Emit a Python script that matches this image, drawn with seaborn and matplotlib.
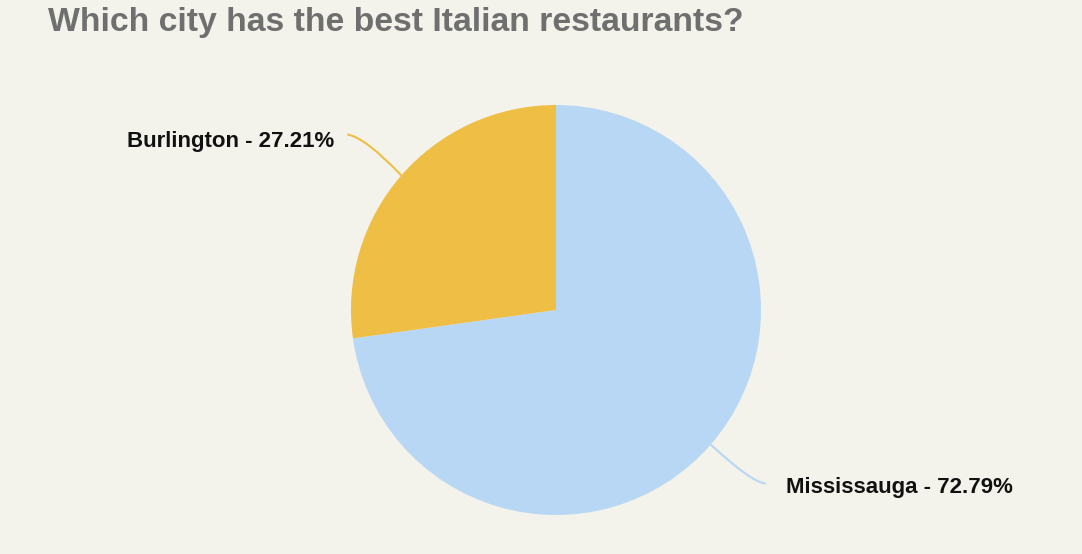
import numpy as np
import matplotlib
matplotlib.use("Agg")
import matplotlib.pyplot as plt
from matplotlib.path import Path
from matplotlib.patches import PathPatch
import seaborn as sns

categories = ["Mississauga", "Burlington"]
values = [72.79, 27.21]
colors = ["#b8d7f4", "#efbe45"]
title = "Which city has the best Italian restaurants?"

sns.set_theme(style="white")
plt.rcParams['font.family'] = ['Liberation Sans', 'DejaVu Sans']

W, H = 1082, 554
bg = "#f3f2eb"
fig = plt.figure(figsize=(W / 100, H / 100), dpi=100, facecolor=bg)
ax = fig.add_axes([0, 0, 1, 1])
ax.set_facecolor(bg)

cx, cy, r = 556, 310, 205
wedges, _ = ax.pie(values, colors=colors, startangle=-90, counterclock=True,
                   center=(cx, cy), radius=r, frame=True,
                   wedgeprops=dict(linewidth=0))
ax.set_xlim(0, W)
ax.set_ylim(H, 0)
ax.set_axis_off()
ax.set_aspect('equal')

label_specs = {
    "Burlington": dict(off=[(-54, -41), (-36, -38)], text=(334, 141), ha="right"),
    "Mississauga": dict(off=[(55, 39), (41, 38)], text=(786, 488), ha="left"),
}
for w, cat, val, col in zip(wedges, categories, values, colors):
    ang = np.deg2rad((w.theta1 + w.theta2) / 2)
    ex = cx + r * np.cos(ang)
    ey = cy + r * np.sin(ang)
    spec = label_specs[cat]
    (dx2, dy2), (dx1, dy1) = spec["off"]
    verts = [(ex, ey), (ex + dx1, ey + dy1), (ex + dx2, ey + dy2)]
    path = Path(verts, [Path.MOVETO, Path.CURVE3, Path.CURVE3])
    ax.add_patch(PathPatch(path, fill=False, edgecolor=col, lw=1.5))
    ax.text(spec["text"][0], spec["text"][1], f"{cat} - {val:.2f}%",
            ha=spec["ha"], va="center", fontsize=16, fontweight="bold", color="#111111")

ax.text(48, 23, title, ha="left", va="center", fontsize=24.3, fontweight="bold", color="#6f6f6f")

fig.savefig("out.png", dpi=100, facecolor=bg)
